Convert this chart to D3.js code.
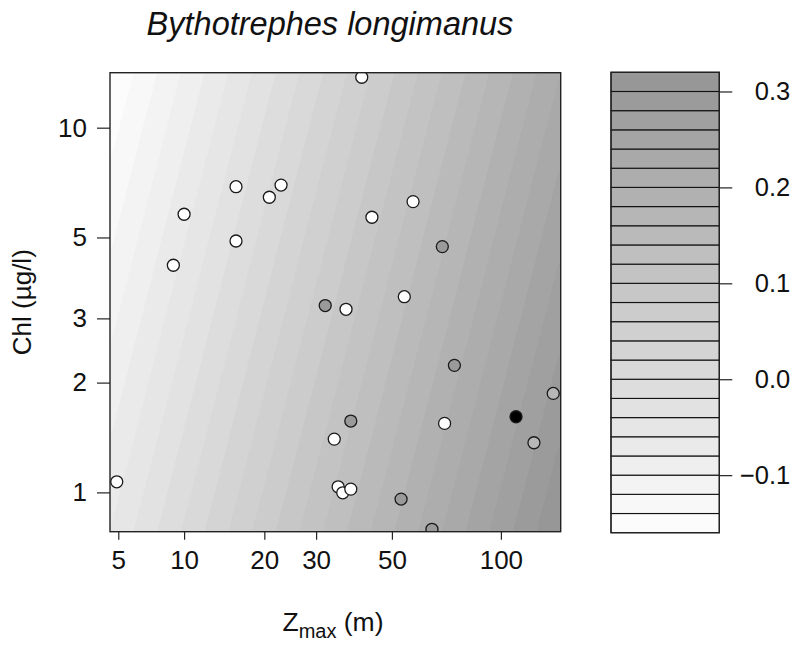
<!DOCTYPE html>
<html>
<head>
<meta charset="utf-8">
<script src="https://cdn.jsdelivr.net/npm/d3@7"></script>
<style>
  html, body { margin: 0; padding: 0; background: #ffffff; }
  svg { display: block; font-family: "Liberation Sans", Arial, Helvetica, sans-serif; }
</style>
</head>
<body>
<svg id="chart" width="800" height="645"></svg>
<script>
// ---------------- data ----------------
const title = "Bythotrephes longimanus";
const xTickValues = [5, 10, 20, 30, 50, 100];
const yTickValues = [1, 2, 3, 5, 10];
const colorTickValues = [-0.1, 0.0, 0.1, 0.2, 0.3];
const colorTickLabels = ["\u22120.1", "0.0", "0.1", "0.2", "0.3"];
// fitted-surface levels (filled-contour breaks)
const levelBreaks = d3.range(-0.16, 0.3201, 0.02).map(v => +v.toFixed(2));
// fitted surface values at plot corners (linear surface)
const surfaceBottomLeft = -0.06;
const surfaceBottomRight = 0.32;
const surfaceTopLeft = -0.16;

const zmax = [40.8, 15.66, 22.8, 20.8, 10.0, 43.7, 15.66, 8.93, 31.9, 36.7,
              57.2, 68.9, 54.1, 37.9, 33.9, 4.92, 34.8, 35.9, 37.9, 74.4,
              139.5, 69.9, 110.1, 123.4, 53.0, 64.5];
const chl  = [13.75, 6.89, 6.96, 6.445, 5.79, 5.68, 4.89, 4.195, 3.253, 3.177,
              6.27, 4.72, 3.44, 1.569, 1.40, 1.069, 1.036, 0.9975, 1.021, 2.23,
              1.868, 1.546, 1.612, 1.368, 0.9586, 0.792];
const group = ["w","w","w","w","w","w","w","w","g","w",
               "w","g","w","g","w","w","w","w","w","g",
               "l","w","b","l","g","g"];

// ---------------- layout ----------------
const svg = d3.select("#chart");
const P = { x0: 110, x1: 560.7, y0: 72.7, y1: 531.7 };
const W = P.x1 - P.x0, H = P.y1 - P.y0;
// relative positions of the x ticks along the axis (axis is not a pure log)
const xTickFrac = [0.0184, 0.1644, 0.3424, 0.4573, 0.6255, 0.8673];

const x = d3.scaleLog()
  .domain(xTickValues)
  .range(xTickFrac.map(f => P.x0 + f * W));
const y = d3.scaleLog()
  .domain([0.7802, 14.15])
  .range([P.y1, P.y0]);

const CB = { x0: 611, x1: 719.3, y0: 72.3, y1: 532.7 };
const cScale = d3.scaleLinear()
  .domain([levelBreaks[0], levelBreaks[levelBreaks.length - 1]])
  .range([CB.y1, CB.y0]);
const nLev = levelBreaks.length - 1;
const levelColor = i => d3.interpolateRgb("#fcfcfc", "#979797")(i / (nLev - 1));

const fills = { w: "#ffffff", g: "#9a9a9a", l: "#b7b7b7", b: "#000000" };

// ---------------- filled surface ----------------
const nx = 120, ny = 120;
const values = new Array(nx * ny);
for (let j = 0; j < ny; j++) {
  for (let i = 0; i < nx; i++) {
    const u = (i + 0.5) / nx;          // 0 left -> 1 right
    const v = 1 - (j + 0.5) / ny;      // 0 bottom -> 1 top
    values[j * nx + i] = surfaceBottomLeft
      + (surfaceBottomRight - surfaceBottomLeft) * u
      + (surfaceTopLeft - surfaceBottomLeft) * v;
  }
}
const contours = d3.contours().size([nx, ny]).thresholds(levelBreaks.slice(0, -1))(values);
const proj = d3.geoTransform({
  point: function(px, py) { this.stream.point(P.x0 + px * W / nx, P.y0 + py * H / ny); }
});
const path = d3.geoPath(proj);

svg.append("defs").append("clipPath").attr("id", "plotclip")
  .append("rect").attr("x", P.x0).attr("y", P.y0).attr("width", W).attr("height", H);

const gPlot = svg.append("g").attr("clip-path", "url(#plotclip)");
gPlot.append("rect").attr("x", P.x0).attr("y", P.y0).attr("width", W).attr("height", H)
  .attr("fill", levelColor(0));
gPlot.selectAll("path.band").data(contours).join("path")
  .attr("class", "band")
  .attr("d", path)
  .attr("fill", (d, i) => levelColor(i))
  .attr("stroke", (d, i) => levelColor(i))
  .attr("stroke-width", 0.3);

// points
const pts = zmax.map((z, i) => ({ z, c: chl[i], g: group[i] }));
gPlot.selectAll("circle.pt").data(pts).join("circle")
  .attr("class", "pt")
  .attr("cx", d => x(d.z))
  .attr("cy", d => y(d.c))
  .attr("r", 6)
  .attr("fill", d => fills[d.g])
  .attr("stroke", "#1a1a1a")
  .attr("stroke-width", 1.3);

// frame
svg.append("rect").attr("x", P.x0).attr("y", P.y0).attr("width", W).attr("height", H)
  .attr("fill", "none").attr("stroke", "#222").attr("stroke-width", 1.4);

// x axis
const xAxis = d3.axisBottom(x).tickValues(xTickValues).tickFormat(d3.format("d"))
  .tickSize(8).tickPadding(6);
const gx = svg.append("g").attr("transform", `translate(0,${P.y1})`).call(xAxis);
gx.select(".domain").remove();
gx.selectAll(".tick line").attr("stroke", "#222").attr("stroke-width", 1.2);
gx.selectAll(".tick text").attr("font-size", 26).attr("fill", "#111")
  .attr("font-family", "Liberation Sans, Arial, sans-serif").attr("dy", "0.9em");

// y axis
const yAxis = d3.axisLeft(y).tickValues(yTickValues).tickFormat(d3.format("d"))
  .tickSize(13).tickPadding(10);
const gy = svg.append("g").attr("transform", `translate(${P.x0},0)`).call(yAxis);
gy.select(".domain").remove();
gy.selectAll(".tick line").attr("stroke", "#222").attr("stroke-width", 1.2);
gy.selectAll(".tick text").attr("font-size", 26).attr("fill", "#111")
  .attr("font-family", "Liberation Sans, Arial, sans-serif");

// title
svg.append("text").attr("x", 330).attr("y", 35).attr("text-anchor", "middle")
  .attr("font-size", 32.5).attr("font-style", "italic").attr("fill", "#111")
  .text(title);

// y label
svg.append("text")
  .attr("transform", `translate(31,${(P.y0 + P.y1) / 2}) rotate(-90)`)
  .attr("text-anchor", "middle").attr("font-size", 26).attr("fill", "#111")
  .text("Chl (\u00b5g/l)");

// x label
const xl = svg.append("text").attr("x", 333).attr("y", 631).attr("text-anchor", "middle")
  .attr("font-size", 26.5).attr("fill", "#111");
xl.append("tspan").text("Z");
xl.append("tspan").attr("font-size", 20).attr("dy", 7).text("max");
xl.append("tspan").attr("dy", -7).text(" (m)");

// color bar
const bands = d3.range(nLev).map(i => ({ lo: levelBreaks[i], hi: levelBreaks[i + 1], i }));
svg.append("g").selectAll("rect").data(bands).join("rect")
  .attr("x", CB.x0).attr("width", CB.x1 - CB.x0)
  .attr("y", d => cScale(d.hi)).attr("height", d => cScale(d.lo) - cScale(d.hi))
  .attr("fill", d => levelColor(d.i))
  .attr("stroke", "#111").attr("stroke-width", 1.1);
svg.append("rect").attr("x", CB.x0).attr("y", CB.y0)
  .attr("width", CB.x1 - CB.x0).attr("height", CB.y1 - CB.y0)
  .attr("fill", "none").attr("stroke", "#222").attr("stroke-width", 1.3);
const cAxis = d3.axisRight(cScale).tickValues(colorTickValues)
  .tickFormat((d, i) => colorTickLabels[i]).tickSize(13).tickPadding(0);
const gc = svg.append("g").attr("transform", `translate(${CB.x1},0)`).call(cAxis);
gc.select(".domain").remove();
gc.selectAll(".tick line").attr("stroke", "#222").attr("stroke-width", 1.2);
gc.selectAll(".tick text").attr("font-size", 25.5).attr("fill", "#111")
  .attr("font-family", "Liberation Sans, Arial, sans-serif")
  .attr("text-anchor", "end").attr("x", 71);
</script>
</body>
</html>
